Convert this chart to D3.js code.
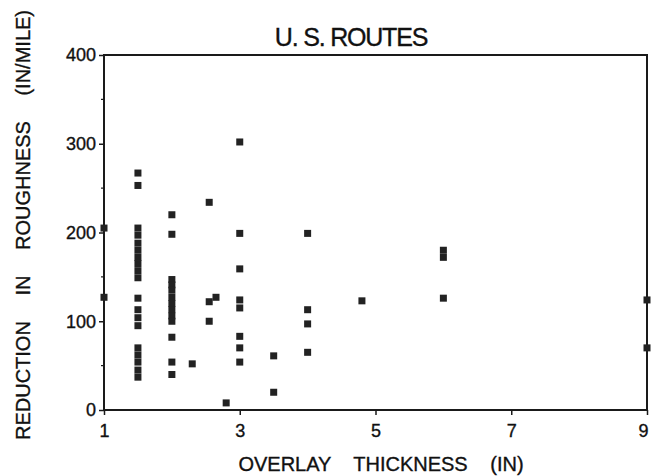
<!DOCTYPE html>
<html>
<head>
<meta charset="utf-8">
<script src="https://cdnjs.cloudflare.com/ajax/libs/d3/7.8.5/d3.min.js"></script>
<style>
  body { margin: 0; background: #fff; }
  text { font-family: "Liberation Sans", Arial, sans-serif; fill: #111; stroke: #111; stroke-width: 0.35; }
</style>
</head>
<body>
<div id="chart"></div>
<script>
// overlay thickness (in) and roughness reduction (in/mile)
var thickness = [
  1, 1,
  1.5, 1.5, 1.5, 1.5, 1.5, 1.5, 1.5, 1.5, 1.5, 1.5, 1.5, 1.5, 1.5, 1.5, 1.5, 1.5, 1.5, 1.5, 1.5,
  2, 2, 2, 2, 2, 2, 2, 2, 2, 2, 2, 2, 2,
  2.3, 2.55, 2.55, 2.55, 2.65, 2.8,
  3, 3, 3, 3, 3, 3, 3, 3,
  3.5, 3.5,
  4, 4, 4, 4,
  4.8,
  6, 6, 6,
  9, 9
];
var reduction = [
  205, 127,
  267, 253, 205, 197, 188, 180, 172, 165, 157, 149, 126, 113, 104, 95, 70, 62, 54, 45, 37,
  220, 198, 147, 141, 135, 127, 120, 113, 106, 100, 82, 54, 40,
  52, 234, 122, 100, 127, 8,
  302, 199, 159, 124, 115, 83, 70, 54,
  61, 20,
  199, 113, 97, 65,
  123,
  180, 172, 126,
  124, 70
];
var xTicks = [1, 3, 5, 7, 9];
var yTicks = [0, 100, 200, 300, 400];
var yMinor = [50, 150, 250, 350];

var width = 651, height = 476;
var margin = {top: 55, right: 4, bottom: 66, left: 104};

var svg = d3.select('#chart').append('svg')
  .attr('width', width)
  .attr('height', height);

var x = d3.scaleLinear().domain([1, 9]).range([margin.left, width - margin.right]);
var y = d3.scaleLinear().domain([0, 400]).range([height - margin.bottom, margin.top]);

// box
svg.append('rect')
  .attr('x', x(1)).attr('y', y(400))
  .attr('width', x(9) - x(1)).attr('height', y(0) - y(400))
  .attr('fill', 'none').attr('stroke', '#1a1a1a').attr('stroke-width', 2);

// y axis
var yAxis = svg.append('g')
  .attr('transform', 'translate(' + x(1) + ',0)')
  .call(d3.axisLeft(y).tickValues(yTicks).tickSize(5).tickPadding(3));
yAxis.select('.domain').remove();
yAxis.selectAll('text').attr('font-size', 18);
yAxis.selectAll('line').attr('stroke', '#1a1a1a').attr('stroke-width', 1.5);

svg.append('g').selectAll('line')
  .data(yMinor)
  .enter()
  .append('line')
  .attr('x1', x(1) - 3).attr('x2', x(1))
  .attr('y1', function(d){ return y(d); })
  .attr('y2', function(d){ return y(d); })
  .attr('stroke', '#1a1a1a').attr('stroke-width', 1.2);

// x axis
var xAxis = svg.append('g')
  .attr('transform', 'translate(0,' + y(0) + ')')
  .call(d3.axisBottom(x).tickValues(xTicks).tickSize(5).tickPadding(9));
xAxis.select('.domain').remove();
xAxis.selectAll('text').attr('font-size', 18)
  .attr('dx', function(d){ return d === 9 ? -4 : 0; });
xAxis.selectAll('line').attr('stroke', '#1a1a1a').attr('stroke-width', 1.5);

// points
var pts = thickness.map(function(d, i){ return [d, reduction[i]]; });
svg.append('g').selectAll('rect')
  .data(pts)
  .enter()
  .append('rect')
  .attr('x', function(d){ return x(d[0]) - 3.5; })
  .attr('y', function(d){ return y(d[1]) - 3.5; })
  .attr('width', 7)
  .attr('height', 7)
  .attr('fill', '#222');

// titles
svg.append('text')
  .attr('x', 351).attr('y', 46)
  .attr('text-anchor', 'middle')
  .attr('font-size', 25)
  .attr('letter-spacing', -1.2)
  .text('U. S. ROUTES');

svg.append('text')
  .attr('x', 381).attr('y', 471)
  .attr('text-anchor', 'middle')
  .attr('font-size', 20)
  .attr('word-spacing', 17)
  .text('OVERLAY THICKNESS (IN)');

svg.append('text')
  .attr('transform', 'translate(30,225) rotate(-90)')
  .attr('text-anchor', 'middle')
  .attr('font-size', 20)
  .attr('word-spacing', 20)
  .text('REDUCTION IN ROUGHNESS (IN/MILE)');
</script>
</body>
</html>
